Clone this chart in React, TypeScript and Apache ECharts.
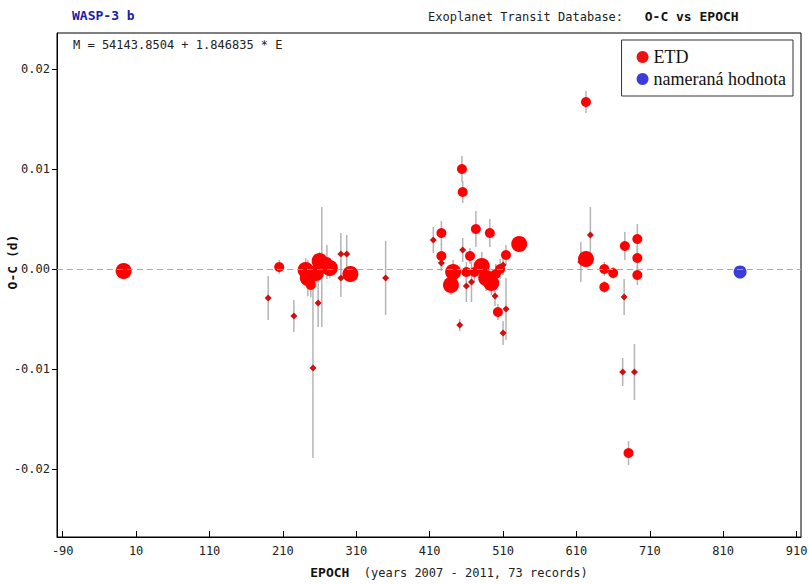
import React, { useEffect, useRef } from "react";
import * as echarts from "echarts";

// Transit timing residuals of WASP-3 b (ETD records)
const epochs = [
  -7, 190, 205, 225, 251, 241, 244, 248, 255, 260, 263, 274, 258, 289, 289, 297, 302, 350, 270,
  454, 455, 426, 415, 473, 492, 532, 426, 426, 455, 465, 514, 442, 439, 460, 471, 481, 487, 494,
  500, 506, 510, 460, 467, 499, 503, 514, 451, 510,
  623, 629, 616, 623, 648, 660, 648, 676, 693, 693, 693, 675, 673, 689, 681,
];
const ocValues = [
  -0.0002, -0.0029, 0.0002, -0.0047, -0.0099, -0.0001, -0.0009, -0.0016, -0.0004, 0.0008, 0.0002,
  0.0001, -0.0034, 0.0015, -0.0009, 0.0015, -0.0005, -0.0009, 0.0007,
  0.01, 0.0077, 0.0036, 0.0029, 0.004, 0.0036, 0.0025, 0.0013, 0.0006, 0.0019, 0.0013, 0.0014,
  -0.0003, -0.0016, -0.0003, -0.0003, 0.0003, -0.0009, -0.0014, -0.0005, 0.0, 0.0004, -0.0017,
  -0.0013, -0.0027, -0.0043, -0.004, -0.0056, -0.0064,
  0.0167, 0.0034, 0.0007, 0.001, 0.0, -0.0004, -0.0018, 0.0023, 0.003, 0.0011, -0.0006, -0.0028,
  -0.0103, -0.0103, -0.0184,
];
const ocErrors = [
  0.0003, 0.0022, 0.0007, 0.0016, 0.009, 0.0012, 0.0018, 0.0012, 0.0014, 0.0009, 0.006, 0.001,
  0.0024, 0.0021, 0.0019, 0.0019, 0.0008, 0.0037, 0.0017,
  0.0013, 0.0011, 0.0012, 0.0013, 0.0018, 0.0014, 0.0006, 0.0012, 0.0008, 0.0012, 0.0008, 0.001,
  0.0012, 0.001, 0.001, 0.001, 0.0014, 0.0013, 0.0012, 0.001, 0.001, 0.001, 0.0016, 0.002, 0.001,
  0.0008, 0.0031, 0.0006, 0.0012,
  0.0011, 0.0028, 0.002, 0.0008, 0.0007, 0.0006, 0.0006, 0.0014, 0.0015, 0.0012, 0.001, 0.0018,
  0.0014, 0.0028, 0.0012,
];
// data quality class: L = best, M = medium, S = poor
const qualityClass = [
  "L", "S", "M", "S", "S", "L", "L", "M", "L", "L", "M", "L", "S", "S", "S", "S", "L", "S", "M",
  "M", "M", "M", "S", "M", "M", "L", "M", "S", "S", "M", "M", "L", "L", "M", "M", "L", "L", "L",
  "M", "M", "S", "S", "S", "S", "M", "S", "S", "S",
  "M", "S", "S", "L", "M", "M", "M", "M", "M", "M", "M", "S", "S", "S", "M",
];

const measuredEpochs = [833];
const measuredOc = [-0.0003];

const xTicks = [-90, 10, 110, 210, 310, 410, 510, 610, 710, 810, 910];
const yTicks = [-0.02, -0.01, 0, 0.01, 0.02];

const X_MIN = -97.8;
const X_MAX = 916;
const Y_MIN = -0.0268;
const Y_MAX = 0.0236;

const MONO = '"DejaVu Sans Mono", monospace';
const SERIF = '"Liberation Serif", "Times New Roman", serif';

const sizeOf: Record<string, number> = { L: 16, M: 10, S: 7 };

export default function App() {
  const ref = useRef<HTMLDivElement>(null);

  useEffect(() => {
    if (!ref.current) return;
    const chart = echarts.init(ref.current, null, { renderer: "svg" });

    const etd = epochs.map((e, i) => [e, ocValues[i], ocErrors[i], qualityClass[i]]);
    const measured = measuredEpochs.map((e, i) => [e, measuredOc[i]]);

    chart.setOption({
      animation: false,
      backgroundColor: "#ffffff",
      grid: {
        left: 57,
        right: 8,
        top: 33,
        bottom: 47,
        show: true,
        borderColor: "#000",
        borderWidth: 1,
        containLabel: false,
        outerBoundsMode: "none",
      },
      xAxis: {
        type: "value",
        min: X_MIN,
        max: X_MAX,
        splitLine: { show: false },
        axisLine: { onZero: false, lineStyle: { color: "#000", width: 1 } },
        axisTick: { inside: true, length: 6, customValues: xTicks, lineStyle: { color: "#000" } },
        axisLabel: {
          customValues: xTicks,
          margin: 8,
          fontFamily: MONO,
          fontSize: 12,
          color: "#222",
          formatter: (v: number) => String(v),
        },
        name: "{b|EPOCH}  (years 2007 - 2011, 73 records)",
        nameLocation: "middle",
        nameGap: 29,
        nameTextStyle: {
          fontFamily: MONO,
          fontSize: 12,
          color: "#222",
          padding: [0, 0, 0, 40],
          rich: { b: { fontFamily: MONO, fontSize: 13, fontWeight: "bold", color: "#111" } },
        },
      },
      yAxis: {
        type: "value",
        min: Y_MIN,
        max: Y_MAX,
        splitLine: { show: false },
        axisLine: { onZero: false, lineStyle: { color: "#000", width: 1 } },
        axisTick: { inside: false, length: 5, customValues: yTicks, lineStyle: { color: "#000" } },
        axisLabel: {
          customValues: yTicks,
          margin: 7,
          fontFamily: MONO,
          fontSize: 12,
          color: "#222",
          formatter: (v: number) => v.toFixed(2),
        },
      },
      legend: {
        orient: "vertical",
        right: 16,
        top: 40,
        selectedMode: false,
        data: [
          { name: "ETD", icon: "circle", itemStyle: { color: "#ee1111" } },
          { name: "nameraná hodnota", icon: "circle", itemStyle: { color: "#3c3cdc" } },
        ],
        itemWidth: 12,
        itemHeight: 12,
        itemGap: 4,
        padding: [8, 7, 8, 15],
        borderColor: "#333",
        borderWidth: 1,
        backgroundColor: "#ffffff",
        textStyle: { fontFamily: SERIF, fontSize: 18, color: "#111" },
      },
      graphic: [
        {
          type: "text",
          left: 72,
          top: 9,
          style: { text: "WASP-3 b", fontFamily: MONO, fontSize: 13, fontWeight: "bold", fill: "#1c1ca8" },
        },
        {
          type: "text",
          left: 428,
          top: 10,
          style: {
            text: "{a|Exoplanet Transit Database:   }{b|O-C vs EPOCH}",
            rich: {
              a: { fontFamily: MONO, fontSize: 12, fill: "#222" },
              b: { fontFamily: MONO, fontSize: 13, fontWeight: "bold", fill: "#111" },
            },
          },
        },
        {
          type: "text",
          left: 73,
          top: 39,
          style: { text: "M = 54143.8504 + 1.846835 * E", fontFamily: MONO, fontSize: 12, fill: "#222" },
        },
        {
          // y-axis title, reading bottom to top
          type: "text",
          x: 12,
          y: 262,
          rotation: Math.PI / 2,
          style: {
            text: "O-C (d)",
            fontFamily: MONO,
            fontSize: 13,
            fontWeight: "bold",
            fill: "#111",
            align: "center",
            verticalAlign: "middle",
          },
        },
      ],
      series: [
        {
          name: "errors",
          type: "custom",
          silent: true,
          z: 1,
          data: etd,
          encode: { x: 0, y: 1 },
          renderItem: (_params: any, api: any) => {
            const x = api.value(0);
            const y = api.value(1);
            const e = api.value(2);
            const p1 = api.coord([x, y + e]);
            const p2 = api.coord([x, y - e]);
            return {
              type: "line",
              shape: { x1: p1[0], y1: p1[1], x2: p2[0], y2: p2[1] },
              style: { stroke: "#b4b4b4", lineWidth: 1.5 },
            };
          },
          markLine: {
            silent: true,
            symbol: ["none", "none"],
            label: { show: false },
            lineStyle: { color: "#aaaaaa", width: 1, type: [6, 4] },
            data: [{ yAxis: 0 }],
          },
        },
        {
          name: "ETD",
          type: "scatter",
          z: 3,
          data: etd,
          symbol: (v: any[]) => (v[3] === "S" ? "diamond" : "circle"),
          symbolSize: (v: any[]) => sizeOf[v[3]],
          itemStyle: {
            color: (p: any) => (p.value[3] === "S" ? "#d01010" : "#ff0000"),
            opacity: 1,
          },
        },
        {
          name: "nameraná hodnota",
          type: "scatter",
          z: 4,
          data: measured,
          symbol: "circle",
          symbolSize: 13,
          itemStyle: { color: "#3c3cdc", opacity: 1 },
        },
      ],
    });

    return () => chart.dispose();
  }, []);

  return (
    <div
      ref={ref}
      style={{ position: "fixed", left: 0, top: 0, width: 809, height: 584, background: "#fff" }}
    />
  );
}
